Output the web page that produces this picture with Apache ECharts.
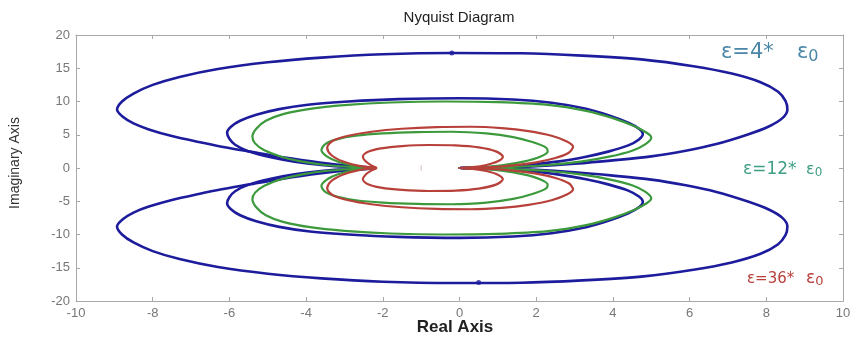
<!DOCTYPE html>
<html>
<head>
<meta charset="utf-8">
<script src="https://cdn.jsdelivr.net/npm/echarts@6/dist/echarts.min.js"></script>
<style>
html,body{margin:0;padding:0;background:#fff;}
#chart{width:857px;height:341px;}
</style>
</head>
<body>
<div id="chart"></div>
<script>
// Axis settings
const xMin = -10, xMax = 10, xStep = 2;
const yMin = -20, yMax = 20, yStep = 5;

// Upper halves of each Nyquist loop; lower halves are the mirror image
const blueOuter = [[-2.2,0.05],[-2.8,0.3],[-3.6,0.8],[-4.6,1.6],[-5.5,2.5],[-6.2,3.2],[-6.8,3.9],[-7.5,4.8],[-8.1,5.8],[-8.5,6.7],[-8.78,7.7],[-8.93,8.8],[-8.8,10.0],[-8.5,11.2],[-8.0,12.5],[-7.3,13.7],[-6.3,14.9],[-5.0,15.9],[-3.6,16.6],[-2.0,17.1],[-0.2,17.3],[1.6,17.25],[3.2,16.9],[4.8,16.3],[6.1,15.3],[7.1,14.2],[7.85,12.9],[8.3,11.5],[8.5,10.1],[8.55,8.8],[8.42,7.5],[8.05,6.2],[7.5,5.0],[6.7,3.6],[5.9,2.6],[5.0,1.75],[4.0,1.15],[3.0,0.65],[2.0,0.28],[1.0,0.08],[0,0]];
const blueInner = [[-2.2,0.03],[-2.9,0.15],[-3.6,0.45],[-4.3,0.95],[-4.95,1.65],[-5.5,2.5],[-5.85,3.5],[-6.0,4.4],[-6.06,5.3],[-5.96,6.2],[-5.72,7.1],[-5.3,8.0],[-4.7,8.85],[-3.9,9.55],[-2.9,10.0],[-1.6,10.35],[0,10.5],[1.4,10.3],[2.4,9.8],[3.3,8.9],[3.9,7.9],[4.4,6.8],[4.68,5.9],[4.78,5.1],[4.68,4.3],[4.4,3.4],[3.9,2.5],[3.3,1.7],[2.6,1.0],[1.8,0.5],[0.9,0.15],[0,0]];
const greenOuter = [[-2.2,0.03],[-2.8,0.15],[-3.5,0.45],[-4.1,0.95],[-4.65,1.7],[-5.1,2.7],[-5.33,3.7],[-5.4,4.7],[-5.3,5.9],[-5.05,7.1],[-4.6,8.1],[-3.9,8.9],[-3.0,9.45],[-1.8,9.85],[-0.4,10.0],[1.0,9.9],[2.3,9.5],[3.3,8.6],[4.0,7.5],[4.55,6.3],[4.88,5.3],[5.0,4.6],[4.85,3.6],[4.5,2.6],[3.9,1.7],[3.2,1.0],[2.3,0.45],[1.2,0.12],[0,0]];
const greenInner = [[-2.2,0.03],[-2.7,0.3],[-3.15,0.9],[-3.45,1.7],[-3.6,2.7],[-3.5,3.6],[-3.2,4.3],[-2.7,4.85],[-2.0,5.2],[-1.1,5.4],[-0.2,5.45],[0.7,5.2],[1.4,4.65],[1.9,3.9],[2.25,3.1],[2.3,2.5],[2.1,1.7],[1.7,1.0],[1.1,0.4],[0.5,0.1],[0,0]];
const redOuter = [[-2.2,0.03],[-2.65,0.35],[-3.05,1.0],[-3.35,2.0],[-3.45,3.1],[-3.3,4.1],[-2.9,4.85],[-2.3,5.45],[-1.5,5.9],[-0.6,6.15],[0.3,6.2],[1.1,6.0],[1.8,5.55],[2.4,4.85],[2.8,4.0],[2.96,3.2],[2.85,2.3],[2.5,1.5],[2.0,0.85],[1.4,0.4],[0.7,0.1],[0,0]];
const redInner = [[-2.15,0],[-2.3,0.4],[-2.45,1.0],[-2.52,1.7],[-2.4,2.4],[-2.05,2.95],[-1.5,3.3],[-0.8,3.46],[-0.1,3.4],[0.5,3.1],[0.95,2.5],[1.13,1.7],[1.0,1.0],[0.7,0.45],[0.35,0.12],[0,0]];
const arrowDots = [[-0.2,17.3],[0.5,-17.2]];
const criticalPoint = [[-1,0]];

// Annotation texts
const labels = [
  {lead:'ε=4*', tail:'ε', sub:'0', color:'#4a86a8'},
  {lead:'ε=12*', tail:'ε', sub:'0', color:'#3f9f86'},
  {lead:'ε=36*', tail:'ε', sub:'0', color:'#b8403a'}
];

function closedLoop(upper){
  const lower = upper.slice().reverse().map(p => [p[0], -p[1]]);
  return upper.concat(lower.slice(1));
}

const BLUE = '#1c1c9c', GREEN = '#3c9a3c', RED = '#b8403a';
function loopSeries(data, color, width){
  return {type:'line', data: closedLoop(data), xAxisIndex:0, yAxisIndex:0, showSymbol:false, smooth:0.3,
    lineStyle:{color:color, width:width}, animation:false, silent:true};
}

const chart = echarts.init(document.getElementById('chart'));
function axisCommon(){
  return {
    axisLine:{show:true, onZero:false, lineStyle:{color:'#a8a8a8', width:1}},
    axisTick:{show:true, inside:true, length:4, lineStyle:{color:'#a8a8a8'}},
    splitLine:{show:false}
  };
}
const tickFont = {color:'#777', fontSize:13, fontFamily:'Liberation Sans', margin:6};
const FF = '"DejaVu Sans"';
function annotation(l, x1, x2, y, size, tailSize, subSize, subPad){
  return [
    {type:'text', x:x1, y:y, style:{text:l.lead, font:size+'px '+FF, fill:l.color, verticalAlign:'middle'}},
    {type:'text', x:x2, y:y, style:{text:'{a|'+l.tail+'}{s|'+l.sub+'}', verticalAlign:'middle',
      rich:{a:{fontSize:tailSize, fontFamily:'DejaVu Sans', fill:l.color},
            s:{fontSize:subSize, fontFamily:'DejaVu Sans', fill:l.color, padding:[subPad,0,0,0]}}}}
  ];
}
chart.setOption({
  backgroundColor:'#fff',
  animation:false,
  grid:{left:76, right:14, top:35, bottom:40, show:false},
  xAxis:[
    Object.assign({type:'value', min:xMin, max:xMax, interval:xStep, position:'bottom', axisLabel:tickFont}, axisCommon()),
    Object.assign({type:'value', min:xMin, max:xMax, interval:xStep, position:'top', axisLabel:{show:false}}, axisCommon())
  ],
  yAxis:[
    Object.assign({type:'value', min:yMin, max:yMax, interval:yStep, position:'left', axisLabel:tickFont}, axisCommon()),
    Object.assign({type:'value', min:yMin, max:yMax, interval:yStep, position:'right', axisLabel:{show:false}}, axisCommon())
  ],
  series:[
    loopSeries(blueOuter, BLUE, 2.6),
    loopSeries(blueInner, BLUE, 2.6),
    loopSeries(greenOuter, GREEN, 2.2),
    loopSeries(greenInner, GREEN, 2.2),
    loopSeries(redOuter, RED, 2.2),
    loopSeries(redInner, RED, 2.2),
    {type:'scatter', data:arrowDots, symbolSize:5, itemStyle:{color:BLUE}, silent:true},
    {type:'scatter', data:criticalPoint, symbol:'rect', symbolSize:[1,5], itemStyle:{color:'#c9a0a0'}, silent:true}
  ],
  graphic:[
    {type:'text', x:459, y:18, style:{text:'Nyquist Diagram', font:'15px "Liberation Sans"', fill:'#222', align:'center', verticalAlign:'middle'}},
    {type:'text', x:455, y:327, style:{text:'Real Axis', font:'bold 17px "Liberation Sans"', fill:'#222', align:'center', verticalAlign:'middle'}},
    {type:'text', x:15, y:163, rotation:Math.PI/2, style:{text:'Imaginary Axis', font:'14px "Liberation Sans"', fill:'#333', align:'center', verticalAlign:'middle'}}
  ].concat(
    annotation(labels[0], 721, 797, 53, 21, 21, 16, 7),
    annotation(labels[1], 743, 806, 170, 17, 16, 12, 5),
    annotation(labels[2], 747, 806, 279, 15, 17, 13, 5)
  )
});
</script>
</body>
</html>
